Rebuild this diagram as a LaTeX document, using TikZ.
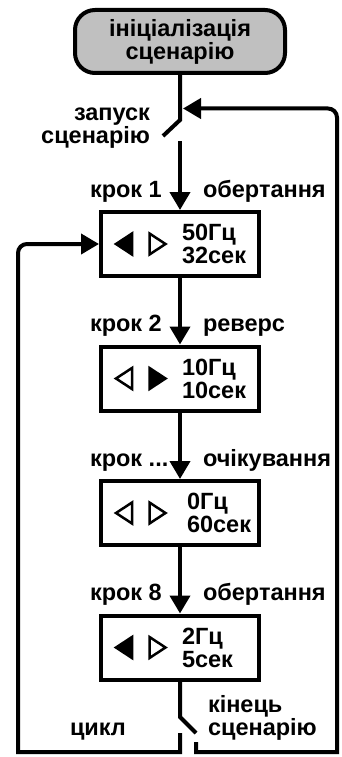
\documentclass[tikz,border=0pt]{standalone}
\usepackage{fontspec}
\setmainfont{Liberation Sans}
\usetikzlibrary{arrows.meta,positioning,calc}
\definecolor{initgray}{RGB}{192,192,192}

\begin{document}
\begin{tikzpicture}[x=1pt, y=1pt, line width=4pt, >={Triangle[length=18pt,width=20pt]},
  txt/.style={font=\bfseries\fontsize{23.5}{23}\selectfont},
  startbox/.style={txt, draw, rounded corners=20pt, fill=initgray, minimum width=210pt, minimum height=63pt, align=center, inner sep=0pt},
  stepbox/.style={draw, minimum width=158pt, minimum height=64pt, inner sep=0pt},
  val/.style={txt, align=left, inner sep=0pt, outer sep=0pt, anchor=west},
  lbl/.style={txt, inner sep=0pt, outer sep=0pt},
  tri/.pic={\draw[line width=2.5pt, pic actions] (-8,10.5) -- (8,0) -- (-8,-10.5) -- cycle;}]
  \useasboundingbox (0,0) rectangle (342,-757);

  % start of the scenario
  \node[startbox] (init) at (180,-41.5) {ініціалізація\\сценарію};

  % steps
  \node[stepbox] (s1) at (180,-244) {};
  \node[stepbox, below=66.5pt of s1] (s2) {};
  \node[stepbox, below=66.5pt of s2] (s3) {};
  \node[stepbox, below=66.5pt of s3] (s4) {};

  % direction marks and values
  \pic[fill=black, rotate=180] at ($(s1)+(-56,0)$) {tri};
  \pic at ($(s1)+(-22.5,0)$) {tri};
  \node[val] (v1) at ($(s1)+(2,0)$) {50Гц\\32сек};
  \pic[rotate=180] at ($(s2)+(-56,0)$) {tri};
  \pic[fill=black] at ($(s2)+(-22.5,0)$) {tri};
  \node[val] (v2) at ($(s2)+(2,0)$) {10Гц\\10сек};
  \pic[rotate=180] at ($(s3)+(-56,0)$) {tri};
  \pic at ($(s3)+(-22.5,0)$) {tri};
  \node[val] (v3) at ($(s3)+(7,0)$) {0Гц\\60сек};
  \pic[fill=black, rotate=180] at ($(s4)+(-56,0)$) {tri};
  \pic at ($(s4)+(-22.5,0)$) {tri};
  \node[val] (v4) at ($(s4)+(2,0)$) {2Гц\\5сек};

  % step labels
  \node[lbl, anchor=base west] (k1) at ($(s1.north west)+(-9,13)$) {крок 1};
  \node[lbl, anchor=base west] (m1) at ($(s1.north)+(23,13)$) {обертання};
  \node[lbl, anchor=base west] (k2) at ($(s2.north west)+(-9,13)$) {крок 2};
  \node[lbl, anchor=base west] (m2) at ($(s2.north)+(23,13)$) {реверс};
  \node[lbl, anchor=base west] (k3) at ($(s3.north west)+(-9,13)$) {крок ...};
  \node[lbl, anchor=base west] (m3) at ($(s3.north)+(23,13)$) {очікування};
  \node[lbl, anchor=base west] (k4) at ($(s4.north west)+(-9,13)$) {крок 8};
  \node[lbl, anchor=base west] (m4) at ($(s4.north)+(23,13)$) {обертання};

  % switch labels
  \node[lbl, align=right, anchor=base east] (run) at (150,-143) {запуск\\сценарію};
  \node[lbl, align=left, anchor=base west] (stop) at (208,-735) {кінець\\сценарію};
  \node[lbl, anchor=base west] (loop) at (70,-735) {цикл};

  % switch points
  \coordinate (sw1top) at (180,-120);
  \coordinate (sw1end) at (163,-136);
  \coordinate (sw1low) at (180,-141);
  \coordinate (ret) at (183,-108.5);
  \coordinate (sw2top) at (180,-717);
  \coordinate (sw2end) at (196,-733);
  \coordinate (sw2l) at (180,-733);
  \coordinate (sw2r) at (196,-742);
  \coordinate (lbot) at (18,-752);
  \coordinate (rbot) at (337,-752);

  % connectors
  \draw (init) -- (sw1top) -- (sw1end);
  \draw[->] (sw1low) -- (s1);
  \draw[->] (s1) -- (s2);
  \draw[->] (s2) -- (s3);
  \draw[->] (s3) -- (s4);
  \draw (s4) -- (sw2top) -- (sw2end);
  \draw[->] (sw2l) |- (lbot) [rounded corners=9pt] -- (lbot |- s1) -- (s1);
  \draw[->] (sw2r) |- (rbot) [rounded corners=9pt] -- (rbot |- ret) -- (ret);
\end{tikzpicture}
\end{document}
